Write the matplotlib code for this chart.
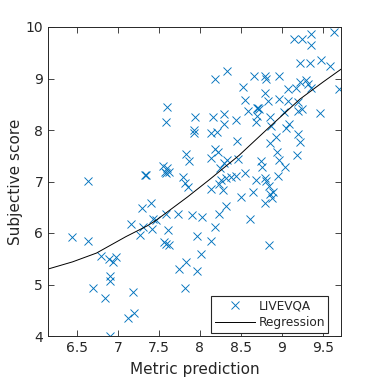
import numpy as np
import matplotlib.pyplot as plt

# scatter points: metric prediction vs subjective score
pred = [6.44, 6.64, 6.64, 6.79, 6.89, 6.94, 6.98, 6.90, 6.90, 6.70,
        6.84, 6.90, 7.12, 7.20, 7.18, 7.16, 7.29, 7.31, 7.27, 7.33,
        7.35, 7.41, 7.43, 7.47, 7.42, 7.59, 7.62, 7.55, 7.60, 7.57,
        7.79, 7.82, 7.85, 7.59, 7.74, 7.61, 7.56, 7.59, 7.62, 7.75,
        7.83, 7.82, 7.96, 8.02, 7.96, 8.13, 8.19, 7.90, 8.03, 8.23,
        7.60, 7.59, 7.94, 8.16, 8.29, 8.30, 8.44, 7.93, 7.93, 8.13,
        8.21, 8.45, 7.83, 7.87, 8.18, 8.22, 8.13, 8.33, 8.30, 8.26,
        8.32, 8.38, 8.23, 8.14, 8.28, 8.32, 8.19, 8.33, 8.66, 8.79,
        8.81, 8.97, 8.52, 8.79, 9.07, 9.17, 9.22, 9.29, 9.32, 9.35,
        8.55, 8.83, 8.96, 9.07, 9.20, 9.24, 9.20, 8.71, 8.72, 8.70,
        8.59, 8.70, 8.68, 8.85, 8.87, 9.03, 9.47, 9.09, 9.05, 9.20,
        8.93, 9.22, 8.85, 9.18, 8.94, 8.97, 8.46, 8.75, 8.76, 9.04,
        8.95, 8.55, 8.44, 8.68, 8.80, 8.81, 8.84, 8.89, 8.85, 8.88,
        8.79, 8.65, 8.50, 8.61, 8.84, 9.64, 9.15, 9.24, 9.35, 9.35,
        9.22, 9.34, 9.48, 9.58, 9.70, 8.24]
score = [5.93, 7.01, 5.85, 5.55, 5.49, 5.44, 5.54, 5.17, 5.07, 4.93,
         4.73, 4.00, 4.34, 4.45, 4.85, 6.17, 6.49, 6.12, 5.97, 7.13,
         7.12, 6.59, 6.27, 6.25, 6.07, 7.17, 7.19, 7.30, 7.26, 7.19,
         7.08, 6.97, 6.89, 6.36, 6.36, 6.06, 5.83, 5.79, 5.76, 5.31,
         5.43, 4.94, 5.26, 5.59, 5.95, 5.84, 6.12, 6.35, 6.31, 6.36,
         8.45, 8.16, 8.26, 8.25, 8.32, 8.12, 8.19, 8.00, 7.95, 7.95,
         7.97, 7.79, 7.53, 7.40, 7.64, 7.58, 7.45, 7.42, 7.35, 7.03,
         7.06, 7.08, 6.95, 6.85, 6.83, 6.53, 8.99, 9.15, 9.05, 9.04,
         8.99, 9.05, 8.83, 8.72, 8.79, 8.82, 8.93, 8.97, 8.90, 8.82,
         8.58, 8.56, 8.60, 8.56, 8.54, 8.41, 8.37, 8.42, 8.41, 8.43,
         8.36, 8.27, 8.16, 8.26, 8.07, 8.35, 8.33, 8.12, 8.04, 7.93,
         7.87, 7.77, 7.74, 7.51, 7.57, 7.42, 7.43, 7.40, 7.28, 7.28,
         7.11, 7.17, 7.11, 7.03, 7.07, 7.01, 6.92, 6.80, 6.75, 6.67,
         6.58, 6.80, 6.70, 6.27, 5.77, 9.91, 9.76, 9.76, 9.86, 9.66,
         9.30, 9.31, 9.35, 9.24, 8.79, 7.26]

# regression curve, points
reg_x = [6.15, 6.45, 6.74, 7.10, 7.36, 7.47, 7.85, 8.12, 8.48, 8.85, 9.22, 9.50, 9.72]
reg_y = [5.30, 5.44, 5.61, 5.93, 6.14, 6.25, 6.70, 7.04, 7.51, 8.06, 8.60, 8.93, 9.18]

plt.rcParams['font.family'] = 'DejaVu Sans'
fig = plt.figure(figsize=(3.78, 3.78), dpi=100)
ax = fig.add_axes([48 / 378, 42 / 378, 293 / 378, 309 / 378])

ax.plot(pred, score, 'x', color='#0072BD', markersize=6, markeredgewidth=0.65, label='LIVEVQA')
ax.plot(reg_x, reg_y, '-', color='black', linewidth=0.7, label='Regression')

ax.set_xlim(6.15, 9.72)
ax.set_ylim(4, 10)
ax.set_xticks([6.5, 7, 7.5, 8, 8.5, 9, 9.5])
ax.set_xticklabels(['6.5', '7', '7.5', '8', '8.5', '9', '9.5'])
ax.set_yticks([4, 5, 6, 7, 8, 9, 10])
ax.tick_params(direction='in', top=True, right=True, length=4, width=0.6,
               labelsize=10, colors='#262626')
for s in ax.spines.values():
    s.set_linewidth(0.7)
    s.set_color('#262626')

ax.set_xlabel('Metric prediction', fontsize=11, color='#262626', labelpad=5)
ax.set_ylabel('Subjective score', fontsize=11, color='#262626', labelpad=2)

leg = ax.legend(loc='lower right', bbox_to_anchor=(0.957, 0.01), borderaxespad=0,
                fancybox=False, edgecolor='#262626', framealpha=1, fontsize=8.7,
                handlelength=3.3, handletextpad=0.3, borderpad=0.3, labelspacing=0.3)
leg.get_frame().set_linewidth(0.8)
for t in leg.get_texts():
    t.set_color('#262626')

fig.savefig('out.png', dpi=100)
